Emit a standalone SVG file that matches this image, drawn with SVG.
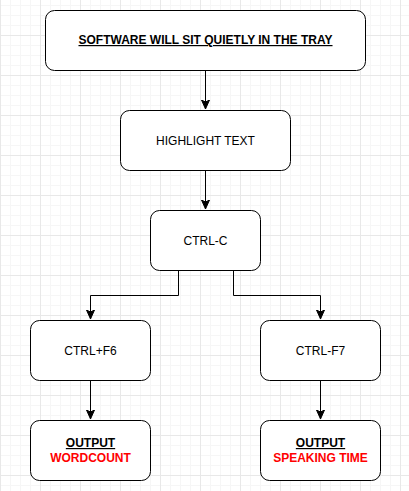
<svg xmlns="http://www.w3.org/2000/svg" width="409" height="491" viewBox="0 0 409 491">
<defs>
<pattern id="minor" width="10" height="10" patternUnits="userSpaceOnUse" x="0" y="5">
<path d="M0.5 0V10M0 0.5H10" fill="none" stroke="#f6f6f6" stroke-width="1"/>
</pattern>
<pattern id="major" width="40" height="40" patternUnits="userSpaceOnUse" x="0" y="35">
<path d="M0.5 0V40M0 0.5H40" fill="none" stroke="#e8e8e8" stroke-width="1"/>
</pattern>
<marker id="arr" markerWidth="10" markerHeight="10" viewBox="0 0 10 10" refX="9" refY="5" orient="auto" markerUnits="userSpaceOnUse">
<path d="M0 1 L9 5 L0 9 L2 5 Z" fill="#000" stroke="#000" stroke-width="1"/>
</marker>
<style>
.box{fill:#fff;stroke:#000;stroke-width:1}
.t{font-family:"Liberation Sans",Arial,sans-serif;font-size:12px;fill:#000;text-anchor:middle}
.b{font-weight:bold}
.u{text-decoration:underline}
.red{fill:#ff0000}
.c{fill:none;stroke:#000;stroke-width:1}
</style>
</defs>
<rect width="409" height="491" fill="#fff"/>
<rect width="409" height="491" fill="url(#minor)"/>
<rect width="409" height="491" fill="url(#major)"/>
<g id="connectors">
<path class="c" d="M205.5 70.5V109" marker-end="url(#arr)"/>
<path class="c" d="M205.5 170.5V209" marker-end="url(#arr)"/>
<path class="c" d="M178.5 270.5V295.5H90.5V319" marker-end="url(#arr)"/>
<path class="c" d="M233.5 270.5V295.5H320.5V319" marker-end="url(#arr)"/>
<path class="c" d="M90.5 380.5V419" marker-end="url(#arr)"/>
<path class="c" d="M320.5 380.5V419" marker-end="url(#arr)"/>
</g>
<g id="n1">
<rect class="box" x="45.5" y="10.5" width="320" height="60" rx="9"/>
<text class="t b u" x="205.5" y="44">SOFTWARE WILL SIT QUIETLY IN THE TRAY</text>
</g>
<g id="n2">
<rect class="box" x="120.5" y="110.5" width="170" height="60" rx="9"/>
<text class="t" x="205.5" y="145">HIGHLIGHT TEXT</text>
</g>
<g id="n3">
<rect class="box" x="150.5" y="210.5" width="110" height="60" rx="9"/>
<text class="t" x="205.5" y="245">CTRL-C</text>
</g>
<g id="n4">
<rect class="box" x="30.5" y="320.5" width="120" height="60" rx="9"/>
<text class="t" x="90.5" y="355">CTRL+F6</text>
</g>
<g id="n5">
<rect class="box" x="260.5" y="320.5" width="120" height="60" rx="9"/>
<text class="t" x="320.5" y="355">CTRL-F7</text>
</g>
<g id="n6">
<rect class="box" x="30.5" y="420.5" width="120" height="60" rx="9"/>
<text class="t b u" x="90.5" y="447">OUTPUT</text>
<text class="t b red" x="90.5" y="462">WORDCOUNT</text>
</g>
<g id="n7">
<rect class="box" x="260.5" y="420.5" width="120" height="60" rx="9"/>
<text class="t b u" x="320.5" y="447">OUTPUT</text>
<text class="t b red" x="320.5" y="462">SPEAKING TIME</text>
</g>
</svg>
